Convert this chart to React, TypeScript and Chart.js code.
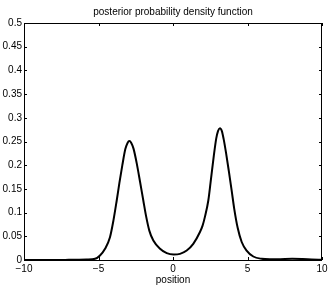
import { useEffect, useRef } from "react";
import { Chart, registerables } from "chart.js";

Chart.register(...registerables);

const positions = [
  -10, -8, -7, -6.3, -5.8, -5.23, -4.9, -4.56, -4.23, -4.0, -3.78, -3.6, -3.4, -3.2, -3.05, -2.93, -2.8, -2.65,
  -2.44, -2.2, -1.99, -1.81, -1.59, -1.32, -0.87, -0.42, 0.05, 0.47, 0.92, 1.36, 1.81, 1.98, 2.15, 2.37, 2.52,
  2.74, 2.9, 3.02, 3.15, 3.28, 3.4, 3.56, 3.75, 3.94, 4.11, 4.34, 4.61, 4.94, 5.39, 5.95, 6.5, 7.2, 8, 8.7, 9.3,
  10,
];
const density = [
  0, 0, 0.0003, 0.0006, 0.001, 0.0025, 0.0095, 0.0236, 0.048, 0.083, 0.125, 0.162, 0.2, 0.234, 0.247, 0.251,
  0.247, 0.235, 0.205, 0.163, 0.125, 0.093, 0.062, 0.041, 0.0236, 0.0144, 0.0116, 0.013, 0.02, 0.034, 0.059,
  0.072, 0.092, 0.1255, 0.163, 0.22, 0.256, 0.272, 0.278, 0.272, 0.255, 0.226, 0.187, 0.146, 0.108, 0.068,
  0.038, 0.02, 0.0074, 0.0025, 0.0015, 0.0018, 0.0025, 0.002, 0.0012, 0.0005,
];
const xTicks = [-10, -5, 0, 5, 10];
const yTicks = [0, 0.05, 0.1, 0.15, 0.2, 0.25, 0.3, 0.35, 0.4, 0.45, 0.5];
const titleText = "posterior probability density function";
const xLabelText = "position";

const FONT = "Liberation Sans, Arial, Helvetica, sans-serif";

function fmtY(v: number) {
  let s = v.toFixed(2);
  s = s.replace(/0+$/, "").replace(/\.$/, "");
  return s;
}
function fmtX(v: number) {
  return v < 0 ? "\u2212" + Math.abs(v) : String(v);
}

const framePlugin = {
  id: "matlabFrame",
  afterDraw(chart: any) {
    const { ctx, chartArea } = chart;
    const { left, right, top, bottom } = chartArea;
    const xs = chart.scales.x;
    const ys = chart.scales.y;
    ctx.save();
    ctx.strokeStyle = "#000";
    ctx.lineWidth = 1;
    ctx.beginPath();
    ctx.rect(Math.round(left) + 0.5, Math.round(top) + 0.5, Math.round(right - left) - 1, Math.round(bottom - top));
    ctx.stroke();
    const tl = 3;
    ctx.beginPath();
    for (const v of xTicks) {
      const px = Math.round(xs.getPixelForValue(v)) + 0.5;
      ctx.moveTo(px, bottom);
      ctx.lineTo(px, bottom - tl);
      ctx.moveTo(px, top);
      ctx.lineTo(px, top + tl);
    }
    for (const v of yTicks) {
      const py = Math.round(ys.getPixelForValue(v)) + 0.5;
      ctx.moveTo(left, py);
      ctx.lineTo(left + tl, py);
      ctx.moveTo(right, py);
      ctx.lineTo(right - tl, py);
    }
    ctx.stroke();
    ctx.fillStyle = "#000";
    ctx.font = `10px ${FONT}`;
    ctx.textAlign = "center";
    ctx.textBaseline = "middle";
    ctx.fillText(titleText, (left + right) / 2, 12);
    ctx.fillText(xLabelText, (left + right) / 2, 280);
    ctx.restore();
  },
};

export default function App() {
  const ref = useRef<HTMLCanvasElement | null>(null);
  useEffect(() => {
    if (!ref.current) return;
    const chart = new Chart(ref.current, {
      type: "line",
      data: {
        datasets: [
          {
            data: positions.map((p, i) => ({ x: p, y: density[i] })),
            borderColor: "#000",
            borderWidth: 2,
            pointRadius: 0,
            fill: false,
            cubicInterpolationMode: "monotone",
          },
        ],
      },
      options: {
        animation: false,
        responsive: false,
        devicePixelRatio: 1,
        layout: { padding: { left: 0, right: 10, top: 23, bottom: 0 } },
        plugins: { legend: { display: false }, tooltip: { enabled: false }, title: { display: false } },
        scales: {
          x: {
            type: "linear",
            min: -10,
            max: 10,
            afterFit: (s: any) => {
              s.height = 27;
            },
            afterBuildTicks: (s: any) => {
              s.ticks = xTicks.map((v) => ({ value: v }));
            },
            grid: { display: false, drawTicks: false },
            border: { display: false },
            ticks: {
              padding: 3,
              color: "#000",
              font: { family: FONT, size: 10 },
              maxRotation: 0,
              autoSkip: false,
              callback: (v: any) => fmtX(Number(v)),
            },
          },
          y: {
            type: "linear",
            min: 0,
            max: 0.5,
            afterFit: (s: any) => {
              s.width = 24;
            },
            afterBuildTicks: (s: any) => {
              s.ticks = yTicks.map((v) => ({ value: v }));
            },
            grid: { display: false, drawTicks: false },
            border: { display: false },
            ticks: {
              padding: 2,
              color: "#000",
              font: { family: FONT, size: 10 },
              autoSkip: false,
              callback: (v: any) => fmtY(Number(v)),
            },
          },
        },
      },
      plugins: [framePlugin],
    } as any);
    return () => chart.destroy();
  }, []);
  return (
    <div style={{ position: "fixed", left: 0, top: 0, width: 332, height: 287, background: "#fff" }}>
      <canvas ref={ref} width={332} height={287} style={{ width: 332, height: 287, display: "block" }} />
    </div>
  );
}
